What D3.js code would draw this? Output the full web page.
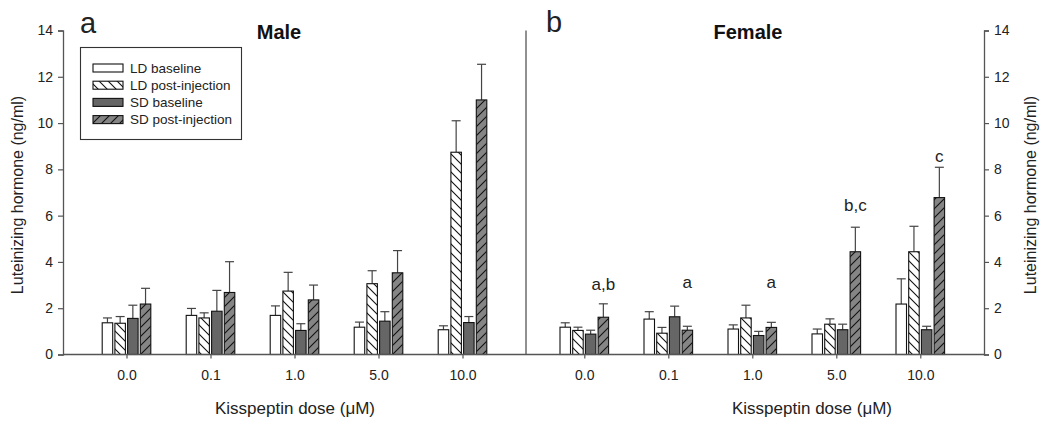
<!DOCTYPE html>
<html><head><meta charset="utf-8">
<script src="https://cdn.jsdelivr.net/npm/d3@7"></script>
<style>
body{margin:0;background:#fff;}
svg{display:block;font-family:"Liberation Sans",Arial,sans-serif;}
</style></head>
<body>
<svg id="c" width="1050" height="423"></svg>
<script>
// ---- data ----
const doses = ["0.0","0.1","1.0","5.0","10.0"];
const seriesNames = ["LD baseline","LD post-injection","SD baseline","SD post-injection"];
const yTicks = [0,2,4,6,8,10,12,14];

const maleLDbase = [1.37,1.69,1.69,1.18,1.07];
const maleLDpost = [1.35,1.58,2.74,3.06,8.74];
const maleSDbase = [1.56,1.87,1.04,1.44,1.38];
const maleSDpost = [2.18,2.68,2.36,3.53,11.0];
const maleLDbaseSE = [0.21,0.30,0.41,0.22,0.17];
const maleLDpostSE = [0.29,0.22,0.81,0.56,1.36];
const maleSDbaseSE = [0.57,0.90,0.29,0.41,0.26];
const maleSDpostSE = [0.68,1.33,0.64,0.96,1.54];

const femaleLDbase = [1.18,1.53,1.10,0.89,2.18];
const femaleLDpost = [1.04,0.92,1.58,1.31,4.44];
const femaleSDbase = [0.88,1.63,0.82,1.07,1.07];
const femaleSDpost = [1.61,1.05,1.17,4.44,6.78];
const femaleLDbaseSE = [0.19,0.32,0.18,0.21,1.09];
const femaleLDpostSE = [0.14,0.25,0.55,0.23,1.10];
const femaleSDbaseSE = [0.17,0.46,0.18,0.24,0.15];
const femaleSDpostSE = [0.58,0.17,0.22,1.06,1.31];

const femaleLetters = ["a,b","a","a","b,c","c"];
const femaleLetterY = [3.04,3.14,3.14,6.46,8.58];

// ---- layout ----
const svg = d3.select("#c");
const X0 = 63, XD = 526, X1 = 984, Y0 = 354.5, YT = 30.5;
const y = d3.scaleLinear().domain([0,14]).range([Y0, YT]);
const xMale = d3.scalePoint().domain(doses).range([126.5, 462.5]);
const xFemale = d3.scalePoint().domain(doses).range([584.3, 920.3]);
const inner = d3.scaleBand().domain(seriesNames).range([-24.3, 24.3]).paddingInner(0.173);

const defs = svg.append("defs");
function hatch(id, bg, dir){
  const p = defs.append("pattern").attr("id", id).attr("patternUnits","userSpaceOnUse")
    .attr("width", 9).attr("height", 9);
  p.append("rect").attr("width",9).attr("height",9).attr("fill",bg);
  const d = dir === "back"
    ? "M-2,-2 L11,11 M-2,7 L2,11 M7,-2 L11,2"
    : "M-2,11 L11,-2 M-2,2 L2,-2 M7,11 L11,7";
  p.append("path").attr("d", d).attr("stroke","#111").attr("stroke-width",1.1);
}
hatch("hLD","#fff","back");
hatch("hSD","#858585","fwd");
const fills = ["#ffffff","url(#hLD)","#666666","url(#hSD)"];

const axisCol = "#555";
const textCol = "#222";

function panel(xs, means, ses){
  seriesNames.forEach((s, si) => {
    const g = svg.append("g");
    doses.forEach((d, di) => {
      const v = means[si][di], e = ses[si][di];
      const cx = xs(d) + inner(s) + inner.bandwidth()/2;
      const x = xs(d) + inner(s);
      g.append("line").attr("x1",cx).attr("x2",cx).attr("y1",y(v)).attr("y2",y(v+e))
        .attr("stroke","#444").attr("stroke-width",1.2);
      g.append("line").attr("x1",cx-4.5).attr("x2",cx+4.5).attr("y1",y(v+e)).attr("y2",y(v+e))
        .attr("stroke","#444").attr("stroke-width",1.2);
      g.append("rect").attr("x",x).attr("y",y(v)).attr("width",inner.bandwidth())
        .attr("height",Y0 - y(v)).attr("fill",fills[si]).attr("stroke","#111").attr("stroke-width",1.1);
    });
  });
}
panel(xMale, [maleLDbase,maleLDpost,maleSDbase,maleSDpost],
      [maleLDbaseSE,maleLDpostSE,maleSDbaseSE,maleSDpostSE]);
panel(xFemale, [femaleLDbase,femaleLDpost,femaleSDbase,femaleSDpost],
      [femaleLDbaseSE,femaleLDpostSE,femaleSDbaseSE,femaleSDpostSE]);

// axes
const yl = svg.append("g").attr("transform",`translate(${X0},0)`)
  .call(d3.axisLeft(y).tickValues(yTicks).tickSize(5).tickPadding(5).tickFormat(d3.format("d")));
const yr = svg.append("g").attr("transform",`translate(${X1},0)`)
  .call(d3.axisRight(y).tickValues(yTicks).tickSize(5).tickPadding(5).tickFormat(d3.format("d")));
const xm = svg.append("g").attr("transform",`translate(0,${Y0})`)
  .call(d3.axisBottom(xMale).tickSize(4).tickPadding(12).tickSizeOuter(0));
const xf = svg.append("g").attr("transform",`translate(0,${Y0})`)
  .call(d3.axisBottom(xFemale).tickSize(4).tickPadding(12).tickSizeOuter(0));
[xm, xf].forEach(a => a.select(".domain").remove());
[yl, yr, xm, xf].forEach(a => {
  a.selectAll(".domain").attr("stroke",axisCol).attr("stroke-width",1.3);
  a.selectAll(".tick line").attr("stroke",axisCol).attr("stroke-width",1.2);
  a.selectAll("text").attr("fill",textCol).style("font-size","14px")
    .style("font-family","'Liberation Sans',Arial,sans-serif");
});
svg.append("line").attr("x1",X0).attr("x2",X1).attr("y1",Y0).attr("y2",Y0)
  .attr("stroke",axisCol).attr("stroke-width",1.4);
svg.append("line").attr("x1",XD).attr("x2",XD).attr("y1",YT).attr("y2",Y0)
  .attr("stroke",axisCol).attr("stroke-width",1.3);

// axis titles
svg.append("text").attr("transform",`translate(23,195) rotate(-90)`).attr("text-anchor","middle")
  .attr("fill",textCol).style("font-size","16px").text("Luteinizing hormone (ng/ml)");
svg.append("text").attr("transform",`translate(1036,195) rotate(-90)`).attr("text-anchor","middle")
  .attr("fill",textCol).style("font-size","16px").text("Luteinizing hormone (ng/ml)");
[295, 812].forEach(cx => {
  svg.append("text").attr("x",cx).attr("y",414).attr("text-anchor","middle")
    .attr("fill",textCol).style("font-size","17px").text("Kisspeptin dose (\u03bcM)");
});

// panel letters and titles
svg.append("text").attr("x",80).attr("y",33).attr("fill",textCol).style("font-size","29px").text("a");
svg.append("text").attr("x",546).attr("y",32).attr("fill",textCol).style("font-size","29px").text("b");
svg.append("text").attr("x",279).attr("y",39).attr("text-anchor","middle").attr("fill","#111")
  .style("font-size","20px").style("font-weight","bold").text("Male");
svg.append("text").attr("x",748).attr("y",39).attr("text-anchor","middle").attr("fill","#111")
  .style("font-size","20px").style("font-weight","bold").text("Female");

// significance letters
femaleLetters.forEach((t, i) => {
  const cx = xFemale(doses[i]) + inner(seriesNames[3]) + inner.bandwidth()/2;
  svg.append("text").attr("x",cx).attr("y",y(femaleLetterY[i])).attr("dy","0.35em")
    .attr("text-anchor","middle").attr("fill",textCol).style("font-size","17px").text(t);
});

// legend
const lg = svg.append("g");
lg.append("rect").attr("x",80.5).attr("y",47.5).attr("width",161).attr("height",92)
  .attr("fill","#fff").attr("stroke","#333").attr("stroke-width",1.1);
seriesNames.forEach((s, i) => {
  const yy = 68 + i*17.2;
  lg.append("rect").attr("x",93).attr("y",yy-4).attr("width",30).attr("height",8)
    .attr("fill",fills[i]).attr("stroke","#111").attr("stroke-width",1.1);
  lg.append("text").attr("x",130).attr("y",yy).attr("dy","0.36em").attr("fill",textCol)
    .style("font-size","13.5px").text(s);
});
</script>
</body></html>
